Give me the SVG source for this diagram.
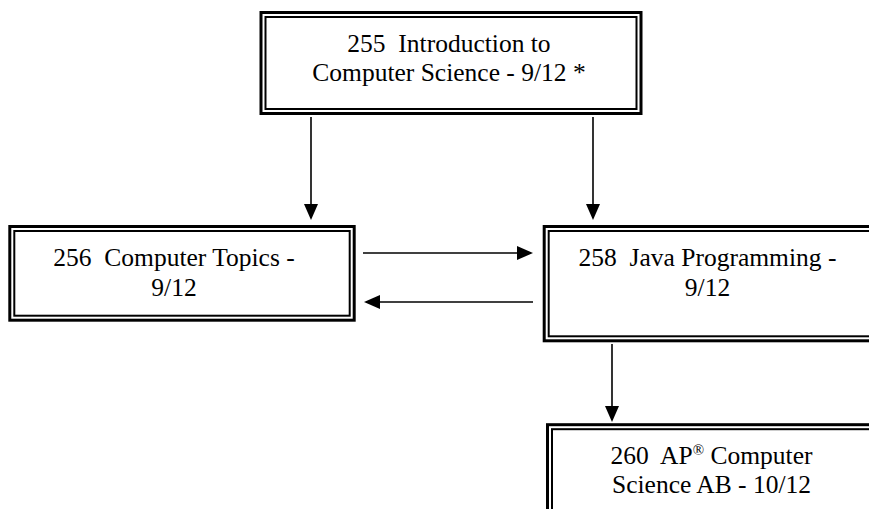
<svg xmlns="http://www.w3.org/2000/svg" width="869" height="509" viewBox="0 0 869 509">
<style>
.outer{fill:none;stroke:#000;stroke-width:3}
.inner{fill:none;stroke:#000;stroke-width:2}
.lbl{font-size:25.5px;fill:#000;text-anchor:middle}
.conn{stroke:#000;stroke-width:1.6;fill:none}
</style>
<defs>
<marker id="ah" markerUnits="userSpaceOnUse" markerWidth="17" markerHeight="15" refX="14" refY="7" orient="auto">
<path d="M0,0 L16,7 L0,14 Z" fill="#000"/>
</marker>
</defs>
<rect width="869" height="509" fill="#fff"/>
<g id="n255">
<rect class="outer" x="261" y="12.5" width="380" height="101"/>
<rect class="inner" x="265.5" y="17" width="371" height="92"/>
<text class="lbl" font-family="'Liberation Serif', 'DejaVu Serif', serif" xml:space="preserve"><tspan x="449" y="52">255  Introduction to</tspan><tspan x="449" y="81">Computer Science - 9/12 *</tspan></text>
</g>
<g id="n256">
<rect class="outer" x="9.8" y="226.5" width="344.4" height="93.7"/>
<rect class="inner" x="14.3" y="231" width="335.4" height="84.7"/>
<text class="lbl" font-family="'Liberation Serif', 'DejaVu Serif', serif" xml:space="preserve"><tspan x="174" y="266">256  Computer Topics -</tspan><tspan x="174" y="295.5">9/12</tspan></text>
</g>
<g id="n258">
<rect class="outer" x="544.2" y="226.5" width="340" height="114.3"/>
<rect class="inner" x="548.7" y="231" width="331" height="105.3"/>
<text class="lbl" font-family="'Liberation Serif', 'DejaVu Serif', serif" xml:space="preserve"><tspan x="707.5" y="266">258  Java Programming -</tspan><tspan x="707.5" y="295.5">9/12</tspan></text>
</g>
<g id="n260">
<rect class="outer" x="547.5" y="424.7" width="340" height="120"/>
<rect class="inner" x="552" y="429.2" width="331" height="111"/>
<text class="lbl" font-family="'Liberation Serif', 'DejaVu Serif', serif" xml:space="preserve"><tspan x="711.5" y="464">260  AP<tspan font-size="15" baseline-shift="9">®</tspan> Computer</tspan><tspan x="711.5" y="493">Science AB - 10/12</tspan></text>
</g>
<g id="connectors">
<line class="conn" x1="311" y1="117" x2="311" y2="218" marker-end="url(#ah)"/>
<line class="conn" x1="593" y1="117" x2="593" y2="218" marker-end="url(#ah)"/>
<line class="conn" x1="363" y1="253" x2="531" y2="253" marker-end="url(#ah)"/>
<line class="conn" x1="533" y1="302" x2="366" y2="302" marker-end="url(#ah)"/>
<line class="conn" x1="612" y1="344" x2="612" y2="420" marker-end="url(#ah)"/>
</g>
</svg>
